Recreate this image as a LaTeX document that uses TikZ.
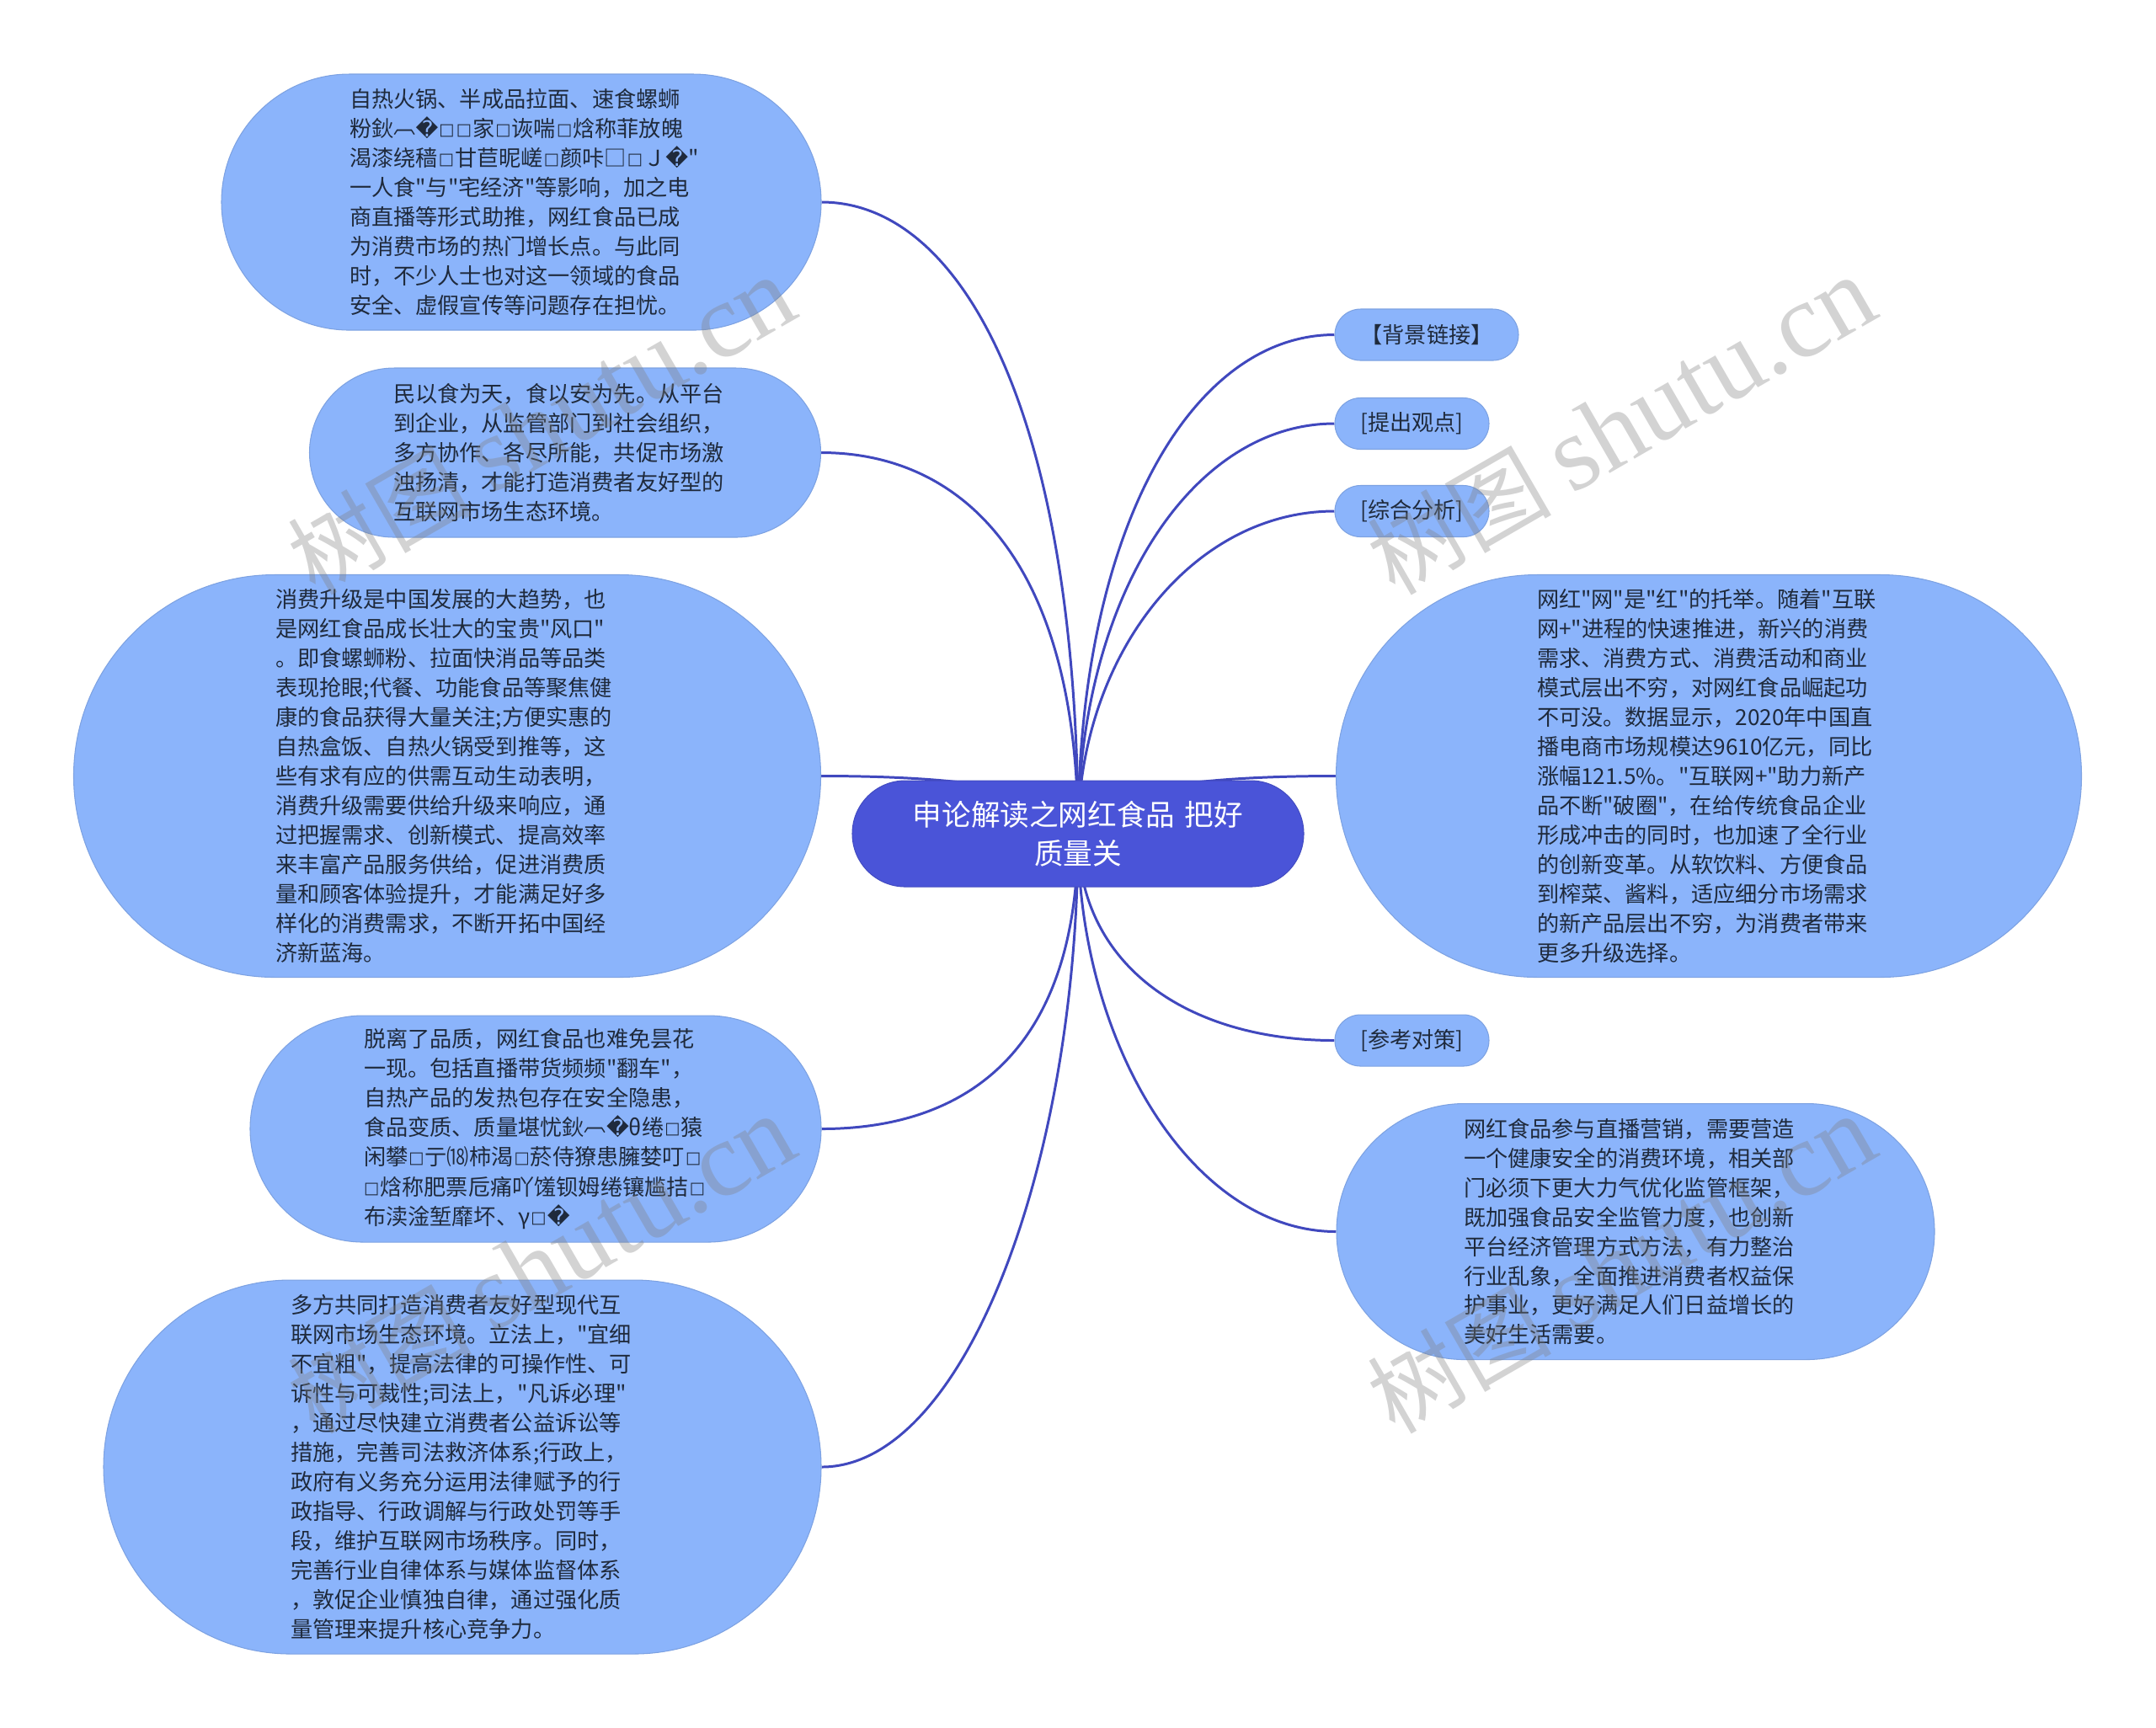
\documentclass[tikz,border=0pt]{standalone}
\usepackage{fontspec}
\usepackage{xcolor}
\usepackage{tikz}
\usetikzlibrary{backgrounds}
\newfontfamily\cjkfont{Noto Sans CJK SC}
\newfontfamily\symfont{DejaVu Sans}
\newfontfamily\markfont{Liberation Serif}
\newcommand{\tofu}{\kern.3pt\raisebox{.5pt}{\symfont\fontsize{5.5}{5.5}\selectfont □}\kern.3pt}
\newcommand{\nochar}{{\symfont �}}
\newcommand{\capmark}{\raisebox{1.3pt}{︹}}
\definecolor{leafblue}{HTML}{8BB4FB}
\definecolor{rootblue}{HTML}{4A54D8}
\definecolor{linkblue}{HTML}{4048BE}
\definecolor{inkdark}{HTML}{1F2A3C}
\tikzset{
  pill/.style n args={2}{minimum width=#1cm, minimum height=#2cm, rounded corners=#2*0.4999cm, inner sep=0pt},
  leaf/.style={fill=leafblue, draw=leafblue!90!black, line width=0.3pt, text=inkdark, font={\cjkfont\fontsize{7.45}{9.95}\selectfont}},
  para/.style={leaf, text width=4.08cm, align=left},
  root/.style={fill=rootblue, draw=rootblue!90!black, line width=0.3pt, text=white, text width=4.2cm, align=center, font={\cjkfont\fontsize{9.85}{13}\selectfont}},
  link/.style={draw=linkblue, line width=0.85pt},
  wmark/.style={text=gray, text opacity=0.35, rotate=30, font={\cjkfont\fontsize{31}{31}\selectfont}}
}
\begin{document}
\begin{tikzpicture}[y=-1cm]
  \useasboundingbox (0,0) rectangle (25.6,20.51);

  \node[root, pill={5.36}{1.26}] (root) at (12.80,9.90) {申论解读之网红食品 把好\\质量关};

  % left side
  \node[para, pill={7.12}{3.04}] (heat) at (6.19,2.40) {自热火锅、半成品拉面、速食螺蛳\\
    粉鈥\capmark\nochar\tofu\tofu 家\tofu 诙喘\tofu 焓称菲放魄\\
    渴漆绕穑\tofu 甘苣昵嵯\tofu 颜咔□\tofu Ｊ\nochar"\\
    一人食"与"宅经济"等影响，加之电\\
    商直播等形式助推，网红食品已成\\
    为消费市场的热门增长点。与此同\\
    时，不少人士也对这一领域的食品\\
    安全、虚假宣传等问题存在担忧。};
  \node[para, pill={6.07}{2.01}] (safe) at (6.71,5.375) {民以食为天，食以安为先。从平台\\
    到企业，从监管部门到社会组织，\\
    多方协作、各尽所能，共促市场激\\
    浊扬清，才能打造消费者友好型的\\
    互联网市场生态环境。};
  \node[para, pill={8.87}{4.78}] (upgrade) at (5.31,9.215) {消费升级是中国发展的大趋势，也\\
    是网红食品成长壮大的宝贵"风口"\\
    。即食螺蛳粉、拉面快消品等品类\\
    表现抢眼;代餐、功能食品等聚焦健\\
    康的食品获得大量关注;方便实惠的\\
    自热盒饭、自热火锅受到推等，这\\
    些有求有应的供需互动生动表明，\\
    消费升级需要供给升级来响应，通\\
    过把握需求、创新模式、提高效率\\
    来丰富产品服务供给，促进消费质\\
    量和顾客体验提升，才能满足好多\\
    样化的消费需求，不断开拓中国经\\
    济新蓝海。};
  \node[para, pill={6.78}{2.69}] (quality) at (6.36,13.405) {脱离了品质，网红食品也难免昙花\\
    一现。包括直播带货频频"翻车"，\\
    自热产品的发热包存在安全隐患，\\
    食品变质、质量堪忧鈥\capmark\nochar θ绻\tofu 猿\\
    闲攀\tofu 亍⒅柿渴\tofu 菸侍獠患臃婪叮\tofu\\
    \tofu 焓称肥票卮痛吖馐钡姆绻镶尴拮\tofu\\
    布渎淦堑靡坏、γ\tofu\nochar};
  \node[para, pill={8.52}{4.44}] (jointly) at (5.49,17.42) {多方共同打造消费者友好型现代互\\
    联网市场生态环境。立法上，"宜细\\
    不宜粗"，提高法律的可操作性、可\\
    诉性与可裁性;司法上，"凡诉必理"\\
    ，通过尽快建立消费者公益诉讼等\\
    措施，完善司法救济体系;行政上，\\
    政府有义务充分运用法律赋予的行\\
    政指导、行政调解与行政处罚等手\\
    段，维护互联网市场秩序。同时，\\
    完善行业自律体系与媒体监督体系\\
    ，敦促企业慎独自律，通过强化质\\
    量管理来提升核心竞争力。};

  % right side
  \node[leaf, pill={2.18}{0.61}] (backg) at (16.94,3.975) {【背景链接】};
  \node[leaf, pill={1.83}{0.61}] (view) at (16.765,5.03) {[提出观点]};
  \node[leaf, pill={1.83}{0.61}] (analysis) at (16.765,6.07) {[综合分析]};
  \node[para, pill={8.85}{4.78}] (lift) at (20.29,9.215) {网红"网"是"红"的托举。随着"互联\\
    网+"进程的快速推进，新兴的消费\\
    需求、消费方式、消费活动和商业\\
    模式层出不穷，对网红食品崛起功\\
    不可没。数据显示，2020年中国直\\
    播电商市场规模达9610亿元，同比\\
    涨幅121.5\%。"互联网+"助力新产\\
    品不断"破圈"，在给传统食品企业\\
    形成冲击的同时，也加速了全行业\\
    的创新变革。从软饮料、方便食品\\
    到榨菜、酱料，适应细分市场需求\\
    的新产品层出不穷，为消费者带来\\
    更多升级选择。};
  \node[leaf, pill={1.83}{0.61}] (measure) at (16.765,12.355) {[参考对策]};
  \node[para, pill={7.10}{3.04}] (live) at (19.42,14.625) {网红食品参与直播营销，需要营造\\
    一个健康安全的消费环境，相关部\\
    门必须下更大力气优化监管框架，\\
    既加强食品安全监管力度，也创新\\
    平台经济管理方式方法，有力整治\\
    行业乱象，全面推进消费者权益保\\
    护事业，更好满足人们日益增长的\\
    美好生活需要。};

  \begin{pgfonlayer}{background}
    \draw[link] (heat.east) .. controls +(1.7,0) and +(0,-4.9) .. (root.center);
    \draw[link] (safe.east) .. controls +(1.7,0) and +(0,-3.2) .. (root.center);
    \draw[link] (upgrade.east) .. controls +(2.0,0) and +(0,-0.45) .. (root.center);
    \draw[link] (quality.east) .. controls +(1.7,0) and +(0,2.6) .. (root.center);
    \draw[link] (jointly.east) .. controls +(1.7,0) and +(0,3.9) .. (root.center);
    \draw[link] (backg.west) .. controls +(-1.7,0) and +(0,-3.6) .. (root.center);
    \draw[link] (view.west) .. controls +(-1.7,0) and +(0,-2.8) .. (root.center);
    \draw[link] (analysis.west) .. controls +(-1.7,0) and +(0,-2.1) .. (root.center);
    \draw[link] (lift.west) .. controls +(-2.0,0) and +(0,-0.45) .. (root.center);
    \draw[link] (measure.west) .. controls +(-1.7,0) and +(0,1.6) .. (root.center);
    \draw[link] (live.west) .. controls +(-1.7,0) and +(0,2.5) .. (root.center);
  \end{pgfonlayer}

  % marks on top
  \foreach \mx/\my [count=\mi] in {6.43/5.06, 19.25/5.06, 6.43/15.02, 19.25/15.02}
    \node[wmark] (mark\mi) at (\mx,\my) {树图 {\markfont\fontsize{36}{36}\selectfont shutu.cn}};
\end{tikzpicture}
\end{document}
